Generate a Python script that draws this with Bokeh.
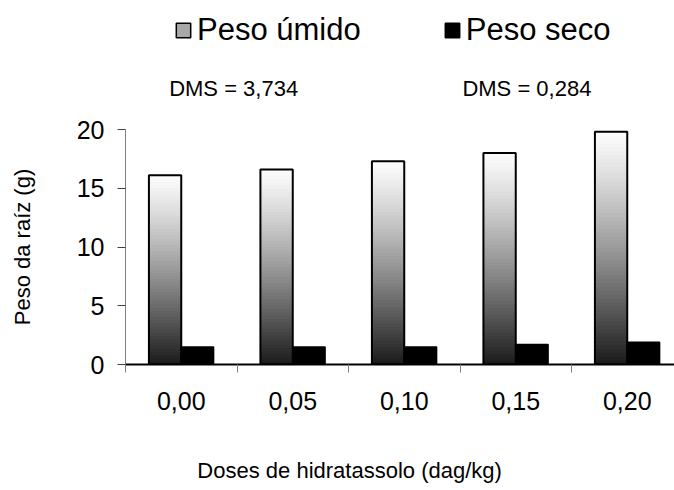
import numpy as np
from bokeh.plotting import figure
from bokeh.layouts import column
from bokeh.models import (ColumnDataSource, FixedTicker, Range1d, Legend,
                          LegendItem, Label)
from bokeh.embed import file_html
from bokeh.resources import INLINE

# ---- data ----
doses = ["0,00", "0,05", "0,10", "0,15", "0,20"]
peso_umido = [16.1, 16.6, 17.3, 18.0, 19.8]
peso_seco = [1.5, 1.5, 1.5, 1.7, 1.9]
dms_labels = ["DMS = 3,734", "DMS = 0,284"]
dms_x = [0.97, 3.6]
y_ticks = [0, 5, 10, 15, 20]
legend_labels = ["Peso úmido", "Peso seco"]
x_title = "Doses de hidratassolo (dag/kg)"
y_title = "Peso da raíz (g)"

FONT = "Liberation Sans"
n = len(doses)
centers = [i + 0.5 for i in range(n)]
bw = 0.29
xr = Range1d(0, 549 / 111.5)


def strip(h, top_border=0):
    f = figure(frame_width=549, frame_height=h, x_range=xr,
               y_range=Range1d(0, h), output_backend="svg",
               toolbar_location=None, x_axis_location=None,
               y_axis_location=None, min_border_left=125, min_border_right=0,
               min_border_top=top_border, min_border_bottom=0)
    f.outline_line_color = None
    f.xgrid.grid_line_color = None
    f.ygrid.grid_line_color = None
    return f


# ---------------- top strip: legend + DMS ----------------
top = strip(106, 8)
r_leg_u = top.quad(left=[0], right=[0.1], top=[-40], bottom=[-50],
                   fill_color="#a8a8a8", line_color="black", line_width=1.5)
r_leg_s = top.quad(left=[0], right=[0.1], top=[-40], bottom=[-50],
                   fill_color="black", line_color="black", line_width=1.5)
legend = Legend(items=[LegendItem(label=legend_labels[0], renderers=[r_leg_u]),
                       LegendItem(label=legend_labels[1], renderers=[r_leg_s])],
                orientation="horizontal", location=(49, 66),
                label_text_font=FONT, label_text_font_size="31px",
                label_text_color="black", glyph_width=18, glyph_height=18,
                label_standoff=5, spacing=82, padding=0, margin=0,
                border_line_color=None, background_fill_alpha=0)
top.add_layout(legend, "center")

for txt, xx in zip(dms_labels, dms_x):
    top.add_layout(Label(x=xx, y=26, text=txt, text_align="center",
                         text_baseline="middle", text_font=FONT,
                         text_font_size="22px", text_color="black"))

# ---------------- main chart ----------------
p = figure(frame_width=549, frame_height=235, x_range=xr,
           y_range=Range1d(0, 20), output_backend="svg",
           toolbar_location=None, min_border_left=125, min_border_top=15,
           min_border_right=0, min_border_bottom=60)
p.outline_line_color = None
p.xgrid.grid_line_color = None
p.ygrid.grid_line_color = None

# gradient slices for the wet-weight bars
N = 60
L, R, B, T, C = [], [], [], [], []
for i, v in enumerate(peso_umido):
    for k in range(N):
        frac_top = 1 - (k + 0.5) / N  # 0 at top, 1 at bottom
        g = int(round(26 + 226 * (1 - frac_top ** 1.2)))
        L.append(centers[i] - bw)
        R.append(centers[i])
        B.append(v * k / N)
        T.append(min(v, v * (k + 1.7) / N))
        C.append("#%02x%02x%02x" % (g, g, g))
p.quad(left=L, right=R, bottom=B, top=T, fill_color=C, line_color=None)

src_u = ColumnDataSource(dict(l=[c - bw for c in centers], r=centers,
                              t=peso_umido, b=[0] * n))
p.quad(left="l", right="r", top="t", bottom="b", source=src_u,
       fill_color=None, line_color="black", line_width=2)

src_s = ColumnDataSource(dict(l=centers, r=[c + bw for c in centers],
                              t=peso_seco, b=[0] * n))
p.quad(left="l", right="r", top="t", bottom="b", source=src_s,
       fill_color="black", line_color="black", line_width=1.5)

# x axis
xa = p.xaxis[0]
xa.ticker = FixedTicker(ticks=centers, minor_ticks=list(range(n)))
xa.major_label_overrides = {c: d for c, d in zip(centers, doses)}
xa.major_tick_line_color = None
xa.major_tick_out = 0
xa.major_tick_in = 0
xa.minor_tick_out = 8
xa.minor_tick_in = 0
xa.minor_tick_line_color = "#808080"
xa.axis_line_color = "black"
xa.axis_line_width = 2
xa.major_label_text_font = FONT
xa.major_label_text_font_size = "25px"
xa.major_label_text_color = "black"
xa.major_label_standoff = 19

# y axis
ya = p.yaxis[0]
ya.ticker = FixedTicker(ticks=y_ticks, minor_ticks=[])
ya.major_tick_out = 8
ya.major_tick_in = 0
ya.major_tick_line_color = "#404040"
ya.axis_line_color = "#808080"
ya.axis_line_width = 1
ya.major_label_text_font = FONT
ya.major_label_text_font_size = "25px"
ya.major_label_text_color = "black"
ya.major_label_standoff = 13
ya.axis_label = y_title
ya.axis_label_text_font = FONT
ya.axis_label_text_font_size = "22px"
ya.axis_label_text_font_style = "normal"
ya.axis_label_text_color = "black"
ya.axis_label_standoff = 39

# ---------------- bottom strip: x title ----------------
bot = strip(66)
bot.add_layout(Label(x=2.01, y=20, text=x_title, text_align="center",
                     text_baseline="middle", text_font=FONT,
                     text_font_size="22px", text_color="black"))

layout = column(top, p, bot, spacing=0)
open("out.html", "w").write(file_html(layout, INLINE))
